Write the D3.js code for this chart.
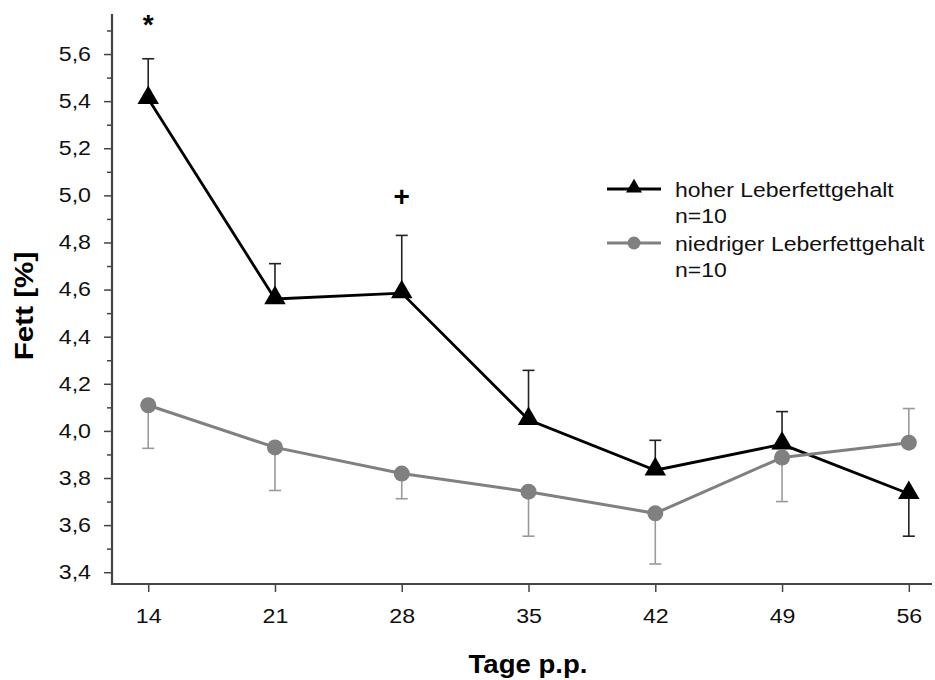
<!DOCTYPE html>
<html>
<head>
<meta charset="utf-8">
<script src="https://cdn.jsdelivr.net/npm/d3@7"></script>
<style>
  body { margin: 0; background: #fff; }
  svg { font-family: "Liberation Sans", Arial, sans-serif; }
</style>
</head>
<body>
<div id="chart"></div>
<script>
// data
const days = [14, 21, 28, 35, 42, 49, 56];
const highFat = [5.41, 4.56, 4.585, 4.047, 3.833, 3.943, 3.733];
const highErr = [0.17, 0.15, 0.245, 0.21, 0.127, 0.139, 0.18];
const highErrDir = [1, 1, 1, 1, 1, 1, -1];
const lowFat = [4.109, 3.93, 3.819, 3.742, 3.65, 3.887, 3.95];
const lowErr = [0.183, 0.183, 0.107, 0.189, 0.215, 0.187, 0.145];
const lowErrDir = [-1, -1, -1, -1, -1, -1, 1];
const yMajor = [3.4, 3.6, 3.8, 4.0, 4.2, 4.4, 4.6, 4.8, 5.0, 5.2, 5.4, 5.6];
const yMinor = [3.5, 3.7, 3.9, 4.1, 4.3, 4.5, 4.7, 4.9, 5.1, 5.3, 5.5, 5.7];
const seriesNames = ["hoher Leberfettgehalt", "niedriger Leberfettgehalt"];
const seriesN = ["n=10", "n=10"];
const marks = [{ day: 14, label: "*" }, { day: 28, label: "+" }];

const W = 935, H = 680;
const plotL = 112, plotR = 932, plotT = 14, plotB = 584;
const font = '"Liberation Sans", Arial, sans-serif';

const svg = d3.select("#chart").append("svg")
    .attr("width", W).attr("height", H);

// the source font is a bit wider than Liberation Sans, so widen the glyphs
function stretch(sel, k) {
    sel.each(function () {
        const len = this.getComputedTextLength();
        d3.select(this).attr("textLength", len * k).attr("lengthAdjust", "spacingAndGlyphs");
    });
}

const x = d3.scaleLinear().domain([12, 57.28]).range([plotL, plotR]);
const y = d3.scaleLinear().domain([3.35, 5.77]).range([plotB, plotT]);

function styleAxis(g) {
    g.attr("font-family", font).attr("font-size", 20);
    g.select(".domain").remove();
    g.selectAll("line").attr("stroke", "#444").attr("stroke-width", 1.5);
    g.selectAll("text").attr("fill", "#111").call(stretch, 1.16);
}

// y axis: minor ticks first, then major with labels
svg.append("g")
    .attr("transform", `translate(${plotL},0)`)
    .call(d3.axisLeft(y).tickValues(yMinor).tickSize(5).tickFormat(""))
    .call(styleAxis);

svg.append("g")
    .attr("transform", `translate(${plotL},0)`)
    .call(d3.axisLeft(y).tickValues(yMajor).tickSize(8).tickPadding(13)
        .tickFormat(d => d3.format(".1f")(d).replace(".", ",")))
    .call(styleAxis);

svg.append("g")
    .attr("transform", `translate(0,${plotB})`)
    .call(d3.axisBottom(x).tickValues(days).tickSize(8).tickPadding(17))
    .call(styleAxis);

// axis lines
svg.append("path")
    .attr("d", `M${plotL},${plotT}V${plotB}H${plotR}`)
    .attr("fill", "none").attr("stroke", "#444").attr("stroke-width", 2.2);

// titles
svg.append("text")
    .attr("x", (plotL + plotR) / 2 + 6).attr("y", 673)
    .attr("text-anchor", "middle")
    .style("font-size", "26px").style("font-weight", "bold")
    .text("Tage p.p.")
    .call(stretch, 1.06);

svg.append("text")
    .attr("transform", `translate(33,${(plotT + plotB) / 2 + 7}) rotate(-90)`)
    .attr("text-anchor", "middle")
    .style("font-size", "26px").style("font-weight", "bold")
    .text("Fett [%]")
    .call(stretch, 1.14);

const line = d3.line().x((d, i) => x(days[i])).y(d => y(d));
const tri = d3.symbol().type(d3.symbolTriangle).size(200);

function drawSeries(vals, errs, dirs, color, errColor, width, marker) {
    const g = svg.append("g");
    g.selectAll(".err").data(vals).join("g").each(function (d, i) {
        const e = d + errs[i] * dirs[i];
        const s = d3.select(this);
        s.append("line")
            .attr("x1", x(days[i])).attr("x2", x(days[i]))
            .attr("y1", y(d)).attr("y2", y(e))
            .attr("stroke", errColor).attr("stroke-width", 1.6);
        s.append("line")
            .attr("x1", x(days[i]) - 6).attr("x2", x(days[i]) + 6)
            .attr("y1", y(e)).attr("y2", y(e))
            .attr("stroke", errColor).attr("stroke-width", 1.6);
    });
    g.append("path").datum(vals)
        .attr("d", line)
        .attr("fill", "none").attr("stroke", color).attr("stroke-width", width);
    if (marker === "tri") {
        g.selectAll(".pt").data(vals).join("path")
            .attr("d", tri)
            .attr("transform", (d, i) => `translate(${x(days[i])},${y(d) - 1})`)
            .attr("fill", color);
    } else {
        g.selectAll(".pt").data(vals).join("circle")
            .attr("cx", (d, i) => x(days[i])).attr("cy", d => y(d))
            .attr("r", 8).attr("fill", color);
    }
}

drawSeries(highFat, highErr, highErrDir, "#000", "#222", 2.8, "tri");
drawSeries(lowFat, lowErr, lowErrDir, "#808080", "#9a9a9a", 3, "circle");

// significance marks above the error bars
svg.selectAll(".sig").data(marks).join("text")
    .attr("x", d => x(d.day))
    .attr("y", d => {
        const i = days.indexOf(d.day);
        return y(highFat[i] + highErr[i]) - (d.label === "*" ? 25 : 29);
    })
    .attr("text-anchor", "middle")
    .style("font-size", "28px").style("font-weight", "bold")
    .text(d => d.label);

// legend
const legend = svg.append("g").attr("transform", "translate(607,189)");
const lg = [
    { color: "#000", width: 2.8, marker: "tri", dy: 0 },
    { color: "#808080", width: 3, marker: "circle", dy: 54 }
];
lg.forEach((l, i) => {
    const row = legend.append("g").attr("transform", `translate(0,${l.dy})`);
    row.append("line").attr("x1", 0).attr("x2", 54)
        .attr("stroke", l.color).attr("stroke-width", l.width);
    if (l.marker === "tri") {
        row.append("path").attr("d", d3.symbol().type(d3.symbolTriangle).size(110))
            .attr("transform", "translate(27,-1)").attr("fill", l.color);
    } else {
        row.append("circle").attr("cx", 27).attr("r", 6.5).attr("fill", l.color);
    }
    row.append("text").attr("x", 68).attr("y", 8)
        .style("font-size", "20px").attr("fill", "#111").text(seriesNames[i])
        .call(stretch, 1.15);
    row.append("text").attr("x", 68).attr("y", 34)
        .style("font-size", "20px").attr("fill", "#111").text(seriesN[i])
        .call(stretch, 1.15);
});
</script>
</body>
</html>
